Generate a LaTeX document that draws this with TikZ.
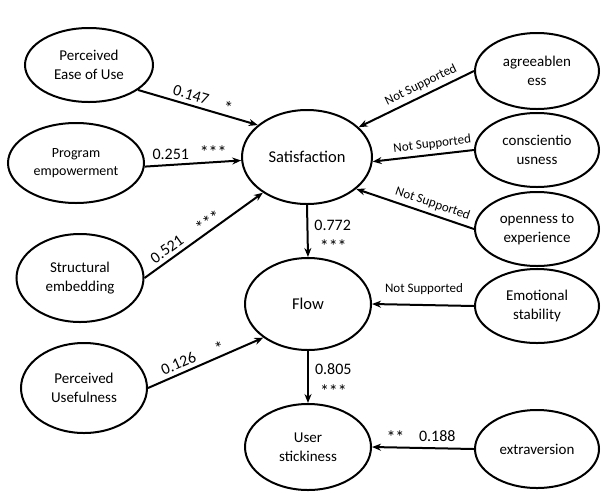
\documentclass[tikz,border=0pt]{standalone}
\usepackage{fontspec}
\setmainfont{Carlito}
\usepackage{tikz}
\usetikzlibrary{positioning,shapes.geometric,arrows.meta}

\begin{document}
\begin{tikzpicture}[x=1pt, y=-1pt,
  construct/.style={ellipse, draw=black, line width=2pt, inner sep=0pt, align=center,
    font=\fontsize{15}{19}\selectfont},
  core/.style={construct, font=\fontsize{16.5}{20}\selectfont},
  link/.style={-{Stealth[length=9pt, width=7pt]}, line width=2pt},
  coef/.style={font=\fontsize{16}{19}\selectfont, inner sep=1pt},
  stars/.style={font=\fontsize{18}{19}\selectfont, inner sep=1pt},
  ns/.style={font=\fontsize{13}{15}\selectfont, inner sep=1pt},
]
\useasboundingbox (0,0) rectangle (601,493);
% ---------- left side constructs ----------
\node[construct, minimum width=128pt, minimum height=74pt] (peou) at (89,65) {Perceived\\Ease of Use};
\node[construct, minimum width=136pt, minimum height=80pt, font=\fontsize{14}{18}\selectfont] (prog) at (76,163) {Program\\empowerment};
\node[construct, minimum width=127pt, minimum height=88pt] (struct) at (80,278) {Structural\\embedding};
\node[construct, minimum width=126pt, minimum height=90pt] (useful) at (84,388) {Perceived\\Usefulness};
% ---------- centre column ----------
\node[core, minimum width=130pt, minimum height=94pt] (sat) at (307,157) {Satisfaction};
\node[core, minimum width=126pt, minimum height=92pt] (flow) at (308,304) {Flow};
\node[construct, minimum width=126pt, minimum height=86pt] (user) at (308,447) {User\\stickiness};
% ---------- right side (personality traits) ----------
\node[construct, minimum width=124pt, minimum height=76pt] (agree) at (537,71) {agreeablen\\ess};
\node[construct, minimum width=124pt, minimum height=74pt] (consc) at (537,150) {conscientio\\usness};
\node[construct, minimum width=124pt, minimum height=74pt] (open) at (537,229) {openness to\\experience};
\node[construct, minimum width=124pt, minimum height=74pt] (emo) at (537,306) {Emotional\\stability};
\node[construct, minimum width=124pt, minimum height=78pt] (extra) at (537,449) {extraversion};

% ---------- paths into Satisfaction ----------
\draw[link] (peou.-27) -- (sat.147)
  node[coef, sloped, above=3pt, pos=0.42] (c-peou) {0.147}
  node[stars, sloped, above=0pt, pos=0.73] (s-peou) {*};
\draw[link] (prog.-3) -- (sat.183)
  node[coef, above=3pt, pos=0.27] (c-prog) {0.251}
  node[stars, above=2pt, pos=0.71] (s-prog) {***};
\draw[link] (struct.east) -- (sat.219)
  node[coef, sloped, above=3pt, pos=0.24] (c-struct) {0.521}
  node[stars, sloped, above=0pt, pos=0.58] (s-struct) {***};
\foreach \src/\dst/\ps in {agree/sat.30/0.42, consc/sat.-4/0.4, open/sat.-33/0.38} {
  \draw[link] (\src.west) -- (\dst)
    node[ns, sloped, above=3pt, pos=\ps] (ns-\src) {Not Supported};
}
% ---------- paths into Flow ----------
\draw[link] (useful.east) -- (flow.217)
  node[coef, sloped, above=3pt, pos=0.30] (c-useful) {0.126}
  node[stars, sloped, above=0pt, pos=0.65] (s-useful) {*};
\draw[link] (sat.south) -- (flow.north)
  node[coef, right=5pt, pos=0.39] (c-sat) {0.772}
  node[stars, right=10pt, pos=0.80] (s-sat) {***};
\draw[link] (emo.west) -- (flow.east)
  node[ns, above=8pt, pos=0.49] (ns-emo) {Not Supported};
% ---------- paths into User stickiness ----------
\draw[link] (flow.south) -- (user.north)
  node[coef, right=5pt, pos=0.34] (c-flow) {0.805}
  node[stars, right=10pt, pos=0.78] (s-flow) {***};
\draw[link] (extra.west) -- (user.east)
  node[coef, above=5pt, pos=0.36] (c-extra) {0.188}
  node[stars, above=2pt, pos=0.77] (s-extra) {**};
\end{tikzpicture}
\end{document}
